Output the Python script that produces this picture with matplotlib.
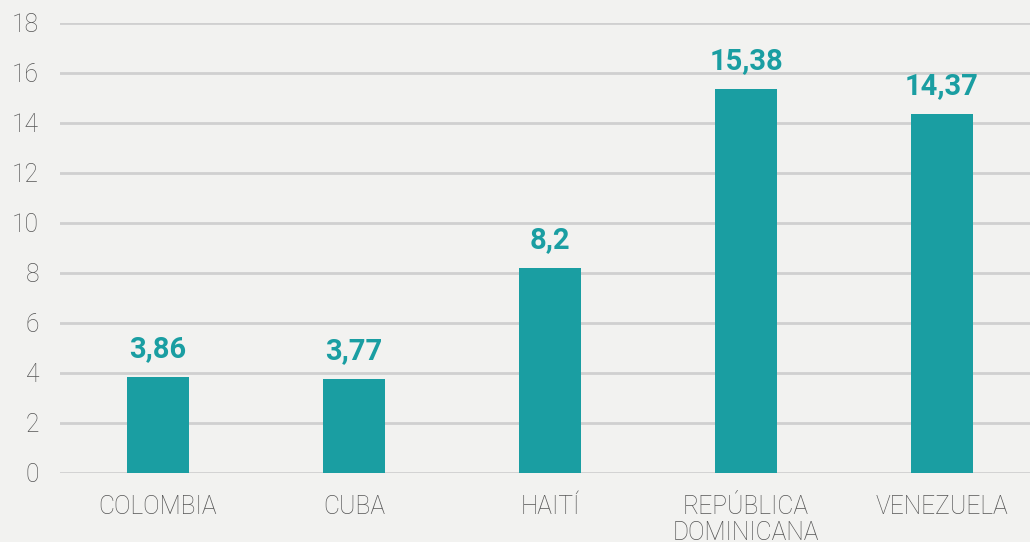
import matplotlib.pyplot as plt

paises = ["COLOMBIA", "CUBA", "HAITÍ", "REPÚBLICA\nDOMINICANA", "VENEZUELA"]
valores = [3.86, 3.77, 8.2, 15.38, 14.37]
etiquetas = ["3,86", "3,77", "8,2", "15,38", "14,37"]

fondo = "#f2f2f0"
teal = "#1a9ea2"

plt.rcParams['font.family'] = ['Roboto', 'DejaVu Sans']

fig = plt.figure(figsize=(10.3, 5.42), dpi=100, facecolor=fondo)
ax = fig.add_axes([60/1030, 69/542, 970/1030, 450/542], facecolor=fondo)

x = range(len(paises))
ax.bar(x, valores, width=0.316, color=teal, zorder=3)
for i, v in enumerate(valores):
    ax.annotate(etiquetas[i], (i, v), xytext=(0, 10), textcoords="offset points",
                ha="center", va="bottom", fontsize=21, fontweight="bold", color=teal)

ax.set_ylim(0, 18)
ax.set_xlim(-0.5, 4.5 - 10/196)
ax.set_yticks(range(0, 19, 2))
ax.set_xticks(list(x))
ax.set_xticklabels(paises, linespacing=1.1)
ax.grid(True, axis="y", color="#d0d0d0", linewidth=2, zorder=0)
ax.tick_params(axis="both", length=0, labelsize=17.7, labelcolor="#555555")
ax.tick_params(axis="y", pad=15)
ax.tick_params(axis="x", pad=16)
for lab in ax.get_xticklabels() + ax.get_yticklabels():
    lab.set_fontweight("light")
for s in ax.spines.values():
    s.set_visible(False)

plt.savefig("out.png", facecolor=fondo)
plt.close()
